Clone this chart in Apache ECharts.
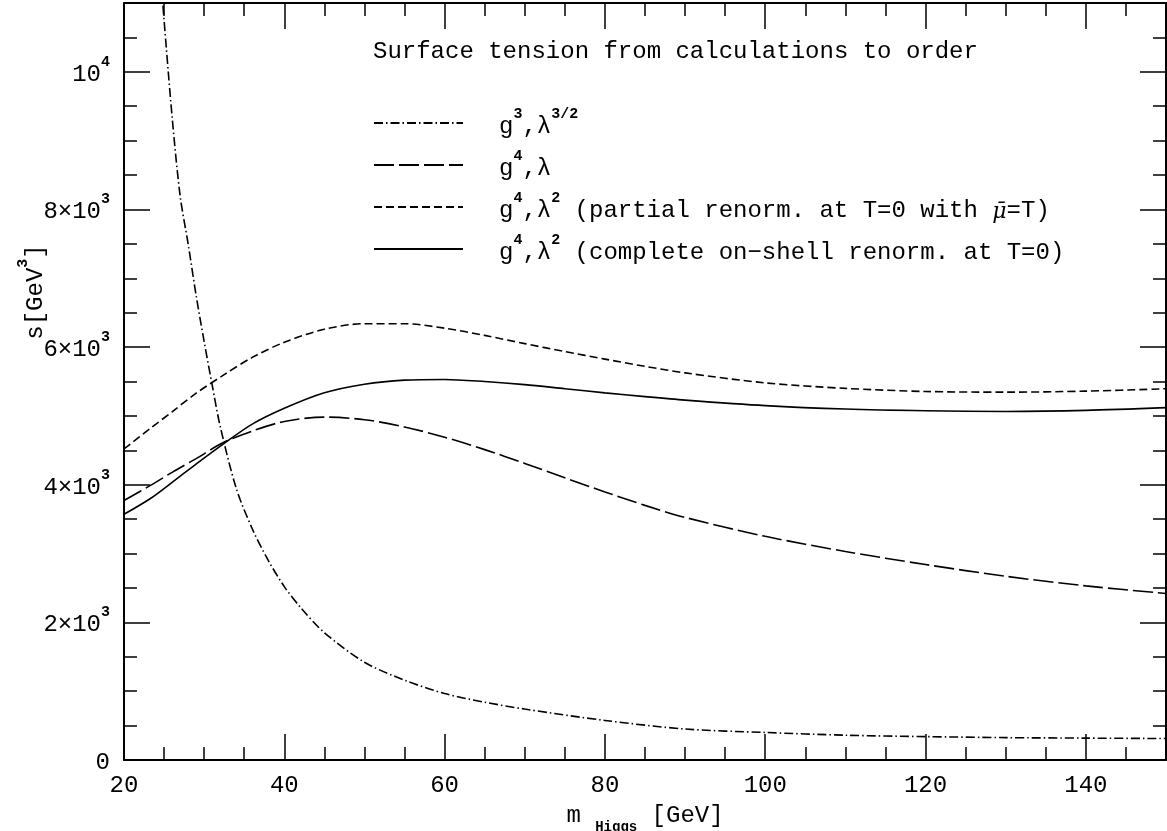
<!DOCTYPE html>
<html>
<head>
<meta charset="utf-8">
<script src="https://cdn.jsdelivr.net/npm/echarts@6/dist/echarts.min.js"></script>
<style>
  html, body { margin: 0; padding: 0; background: #fff; }
  #chart { width: 1167px; height: 831px; }
</style>
</head>
<body>
<div id="chart"></div>
<script>
// m_Higgs [GeV] and surface tension s [GeV^3]
var xG3 = [24.7, 25, 26, 27, 28, 29, 30, 31, 32, 34, 36, 38, 40, 42, 45, 50, 55, 60, 65, 70, 80, 90, 100, 110, 120, 130, 140, 150];
var sG3 = [11200, 10750, 9350, 8200, 7500, 6750, 6080, 5450, 4850, 3950, 3360, 2900, 2520, 2220, 1850, 1420, 1160, 965, 840, 740, 575, 450, 400, 360, 340, 325, 318, 312];

var xG4 = [20, 23.3, 26, 29, 32.5, 36, 40, 45, 50, 55, 60, 65, 70, 75, 80, 85, 90, 100, 110, 120, 130, 140, 150];
var sG4Lambda = [3770, 3990, 4180, 4380, 4620, 4780, 4920, 4983, 4945, 4840, 4690, 4510, 4310, 4100, 3895, 3700, 3525, 3250, 3030, 2840, 2670, 2530, 2420];
var sG4Partial = [4520, 4820, 5060, 5330, 5600, 5850, 6070, 6260, 6340, 6340, 6275, 6170, 6050, 5935, 5825, 5720, 5625, 5480, 5400, 5355, 5345, 5360, 5395];
var sG4Complete = [3570, 3800, 4035, 4300, 4600, 4880, 5110, 5335, 5460, 5520, 5530, 5500, 5455, 5395, 5335, 5280, 5230, 5150, 5100, 5075, 5065, 5080, 5120];

// y tick labels (value -> rich text)
var yTickValues = [0, 2000, 4000, 6000, 8000, 10000];
var yTickLabels = ['{b|0}', '{b|2×10}{s|3}', '{b|4×10}{s|3}', '{b|6×10}{s|3}', '{b|8×10}{s|3}', '{b|10}{s|4}'];

var seriesNames = ['g3', 'g4l', 'g4l2p', 'g4l2c'];
var legendLabels = [
  '{b|g}{s|3}{b|,λ}{s|3/2}',
  '{b|g}{s|4}{b|,λ}',
  '{b|g}{s|4}{b|,λ}{s|2}{b| (partial renorm. at T=0 with }{it|μ̄}{b|=T)}',
  '{b|g}{s|4}{b|,λ}{s|2}{b| (complete on−shell renorm. at T=0)}'
];

var FONT = '"Liberation Mono", monospace';
// "b" sits low in its line so that "s" (top aligned) reads as a superscript
var rich = {
  t: { fontFamily: FONT, fontSize: 24, lineHeight: 36, color: '#000' },
  b: { fontFamily: FONT, fontSize: 24, lineHeight: 32, verticalAlign: 'bottom', color: '#000' },
  it: { fontFamily: 'DejaVu Serif', fontStyle: 'italic', fontSize: 22, lineHeight: 32, verticalAlign: 'bottom', color: '#000' },
  s: { fontFamily: FONT, fontSize: 15, fontWeight: 'bold', verticalAlign: 'top', color: '#000' },
  sub: { fontFamily: FONT, fontSize: 14, fontWeight: 'bold', lineHeight: 22, verticalAlign: 'bottom', color: '#000' }
};

function pairs(xs, ys) {
  return xs.map(function (x, i) { return [x, ys[i]]; });
}

function xAx(pos, interval, len, withLabels) {
  return {
    type: 'value', position: pos, min: 20, max: 150, interval: interval,
    axisLine: { show: withLabels !== null, onZero: false, lineStyle: { color: '#000', width: 2 } },
    axisTick: { inside: true, length: len, lineStyle: { color: '#000', width: 1.5 } },
    axisLabel: withLabels ? {
      margin: 14, fontFamily: FONT, fontSize: 24, color: '#000',
      formatter: function (v) { return v === 150 ? '' : String(v); }
    } : { show: false },
    splitLine: { show: false }
  };
}

function yAx(pos, interval, len, withLabels) {
  return {
    type: 'value', position: pos, min: 0, max: 11000, interval: interval,
    axisLine: { show: withLabels !== null, onZero: false, lineStyle: { color: '#000', width: 2 } },
    axisTick: { inside: true, length: len, lineStyle: { color: '#000', width: 1.5 } },
    axisLabel: withLabels ? {
      margin: 14, rich: rich, padding: [0, 0, 3, 0],
      formatter: function (v) {
        var i = yTickValues.indexOf(v);
        return i < 0 ? '' : yTickLabels[i];
      }
    } : { show: false },
    splitLine: { show: false }
  };
}

var chart = echarts.init(document.getElementById('chart'));

var xAxes = [
  xAx('bottom', 20, 26, true),
  xAx('bottom', 5, 13, null),
  xAx('top', 20, 26, false),
  xAx('top', 5, 13, null)
];
xAxes[0].name = '{t|m }{sub|Higgs}{t| [GeV]}';
xAxes[0].nameLocation = 'middle';
xAxes[0].nameGap = 38;
xAxes[0].nameTextStyle = { rich: rich };

var yAxes = [
  yAx('left', 2000, 26, true),
  yAx('left', 500, 13, null),
  yAx('right', 2000, 26, false),
  yAx('right', 500, 13, null)
];

var styles = [
  { type: [9, 3, 1.5, 3] },
  { type: [20, 5] },
  { type: [8, 4] },
  { type: 'solid' }
];
var datasets = [
  pairs(xG3, sG3),
  pairs(xG4, sG4Lambda),
  pairs(xG4, sG4Partial),
  pairs(xG4, sG4Complete)
];

chart.setOption({
  animation: false,
  backgroundColor: '#fff',
  grid: { left: 124, right: 1, top: 3, bottom: 71, outerBoundsMode: 'none' },
  title: {
    text: 'Surface tension from calculations to order',
    left: 368, top: 35,
    textStyle: { fontFamily: FONT, fontSize: 24, fontWeight: 'normal', color: '#000' }
  },
  legend: {
    orient: 'vertical', left: 368, top: 102,
    itemWidth: 89, itemHeight: 28, itemGap: 10,
    data: seriesNames,
    itemStyle: { opacity: 0 },
    formatter: function (name) { return legendLabels[seriesNames.indexOf(name)]; },
    textStyle: { padding: [0, 0, 0, 31], rich: rich }
  },
  xAxis: xAxes,
  yAxis: yAxes,
  graphic: [{
    type: 'text', x: 32, y: 292, rotation: Math.PI / 2,
    style: {
      text: '{b|s[GeV}{s|3}{b|]}', rich: rich,
      align: 'center', verticalAlign: 'middle'
    }
  }],
  series: seriesNames.map(function (n, i) {
    return {
      name: n, type: 'line', xAxisIndex: 0, yAxisIndex: 0,
      data: datasets[i], symbol: 'none', smooth: 0.3, clip: true,
      lineStyle: { color: '#000', width: 1.6, type: styles[i].type },
      itemStyle: { color: '#000' }
    };
  })
});
</script>
</body>
</html>
